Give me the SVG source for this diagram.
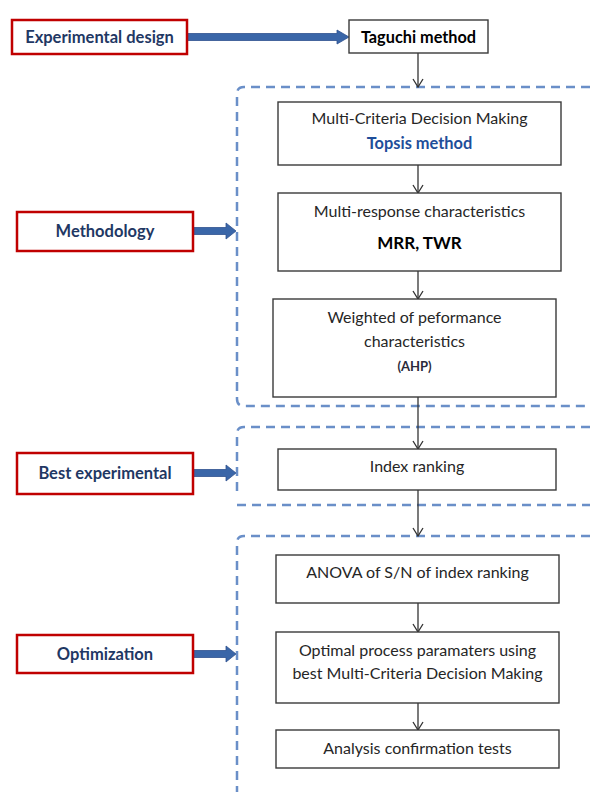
<svg xmlns="http://www.w3.org/2000/svg" width="590" height="792" viewBox="0 0 590 792">
<style>
.lab{fill:#fff;stroke:#C00000;stroke-width:2.5}
.labt{font-family:Lato,"Liberation Sans",sans-serif;font-weight:bold;font-size:16.5px;fill:#1F3864;text-anchor:middle}
.box{fill:#fff;stroke:#3a3a3a;stroke-width:1.4}
.t{font-family:Lato,"Liberation Sans",sans-serif;font-size:16px;fill:#262626;text-anchor:middle}
.frame{fill:none;stroke:#6A8FC8;stroke-width:2.5;stroke-dasharray:9,6}
.con{stroke:#333;stroke-width:1.3;fill:none;marker-end:url(#ah)}
.blk{fill:#3A66A8;stroke:#2F528F;stroke-width:0.8}
</style>
<defs>
<marker id="ah" markerWidth="12" markerHeight="12" refX="9" refY="6" orient="auto" markerUnits="userSpaceOnUse" viewBox="0 0 12 12">
<path d="M1,1 L9,6 L1,11" fill="none" stroke="#333" stroke-width="1.3"/>
</marker>
</defs>

<g id="frames">
<path class="frame" d="M590,87 H244 Q237,87 237,94 V399 Q237,406 244,406 H590"/>
<path class="frame" d="M590,427 H244 Q237,427 237,434 V494"/>
<path class="frame" d="M237,505 H590"/>
<path class="frame" d="M590,536 H244 Q237,536 237,543 V792"/>
</g>

<g id="connectors">
<path class="con" d="M418,53 V87"/>
<path class="con" d="M418,165 V193"/>
<path class="con" d="M418,271 V299"/>
<path class="con" d="M418,397 V449"/>
<path class="con" d="M418,490 V536"/>
<path class="con" d="M418,603 V632"/>
<path class="con" d="M418,703 V730"/>
<path class="blk" d="M187,33.5 H337 V30 L349,37 L337,44 V40.5 H187 Z"/>
<path class="blk" d="M193,227.5 H226 V223 L236,231 L226,239 V234.5 H193 Z"/>
<path class="blk" d="M193,469.5 H226 V465 L236,473 L226,481 V476.5 H193 Z"/>
<path class="blk" d="M193,650.5 H226 V646 L236,654 L226,662 V657.5 H193 Z"/>
</g>

<g id="experimental-design">
<rect class="lab" x="12" y="20" width="175" height="34"/>
<text class="labt" x="99.5" y="43">Experimental design</text>
</g>
<g id="methodology">
<rect class="lab" x="17" y="212" width="176" height="39"/>
<text class="labt" x="105" y="237">Methodology</text>
</g>
<g id="best-experimental">
<rect class="lab" x="17" y="453" width="176" height="41"/>
<text class="labt" x="105" y="479">Best experimental</text>
</g>
<g id="optimization">
<rect class="lab" x="17" y="635" width="176" height="38"/>
<text class="labt" x="105" y="660">Optimization</text>
</g>

<g id="taguchi">
<rect class="box" x="349" y="20" width="139" height="33"/>
<text class="t" x="418.5" y="42.5" style="font-weight:bold;fill:#000;font-size:16.3px">Taguchi method</text>
</g>
<g id="mcdm">
<rect class="box" x="278" y="102" width="283" height="63"/>
<text class="t" x="419.5" y="124">Multi-Criteria Decision Making</text>
<text class="t" x="419.5" y="149" style="font-weight:bold;fill:#1F4E9A;font-size:16.4px">Topsis method</text>
</g>
<g id="multi-response">
<rect class="box" x="278" y="193" width="283" height="78"/>
<text class="t" x="419.5" y="217">Multi-response characteristics</text>
<text class="t" x="419.5" y="249" style="font-weight:bold;font-size:17px;fill:#000">MRR, TWR</text>
</g>
<g id="weighted">
<rect class="box" x="273" y="299" width="283" height="98"/>
<text class="t" x="414.5" y="323">Weighted of peformance</text>
<text class="t" x="414.5" y="347">characteristics</text>
<text class="t" x="414.5" y="371" style="font-weight:bold;font-size:13px;fill:#2a2a3a">(AHP)</text>
</g>
<g id="index-ranking">
<rect class="box" x="278" y="449" width="278" height="41"/>
<text class="t" x="417" y="472">Index ranking</text>
</g>
<g id="anova">
<rect class="box" x="276" y="555" width="283" height="48"/>
<text class="t" x="417.5" y="578">ANOVA of S/N of index ranking</text>
</g>
<g id="optimal">
<rect class="box" x="276" y="632" width="283" height="71"/>
<text class="t" x="417.5" y="656">Optimal process paramaters using</text>
<text class="t" x="417.5" y="679">best Multi-Criteria Decision Making</text>
</g>
<g id="confirmation">
<rect class="box" x="276" y="730" width="283" height="38"/>
<text class="t" x="417.5" y="754">Analysis confirmation tests</text>
</g>
</svg>
